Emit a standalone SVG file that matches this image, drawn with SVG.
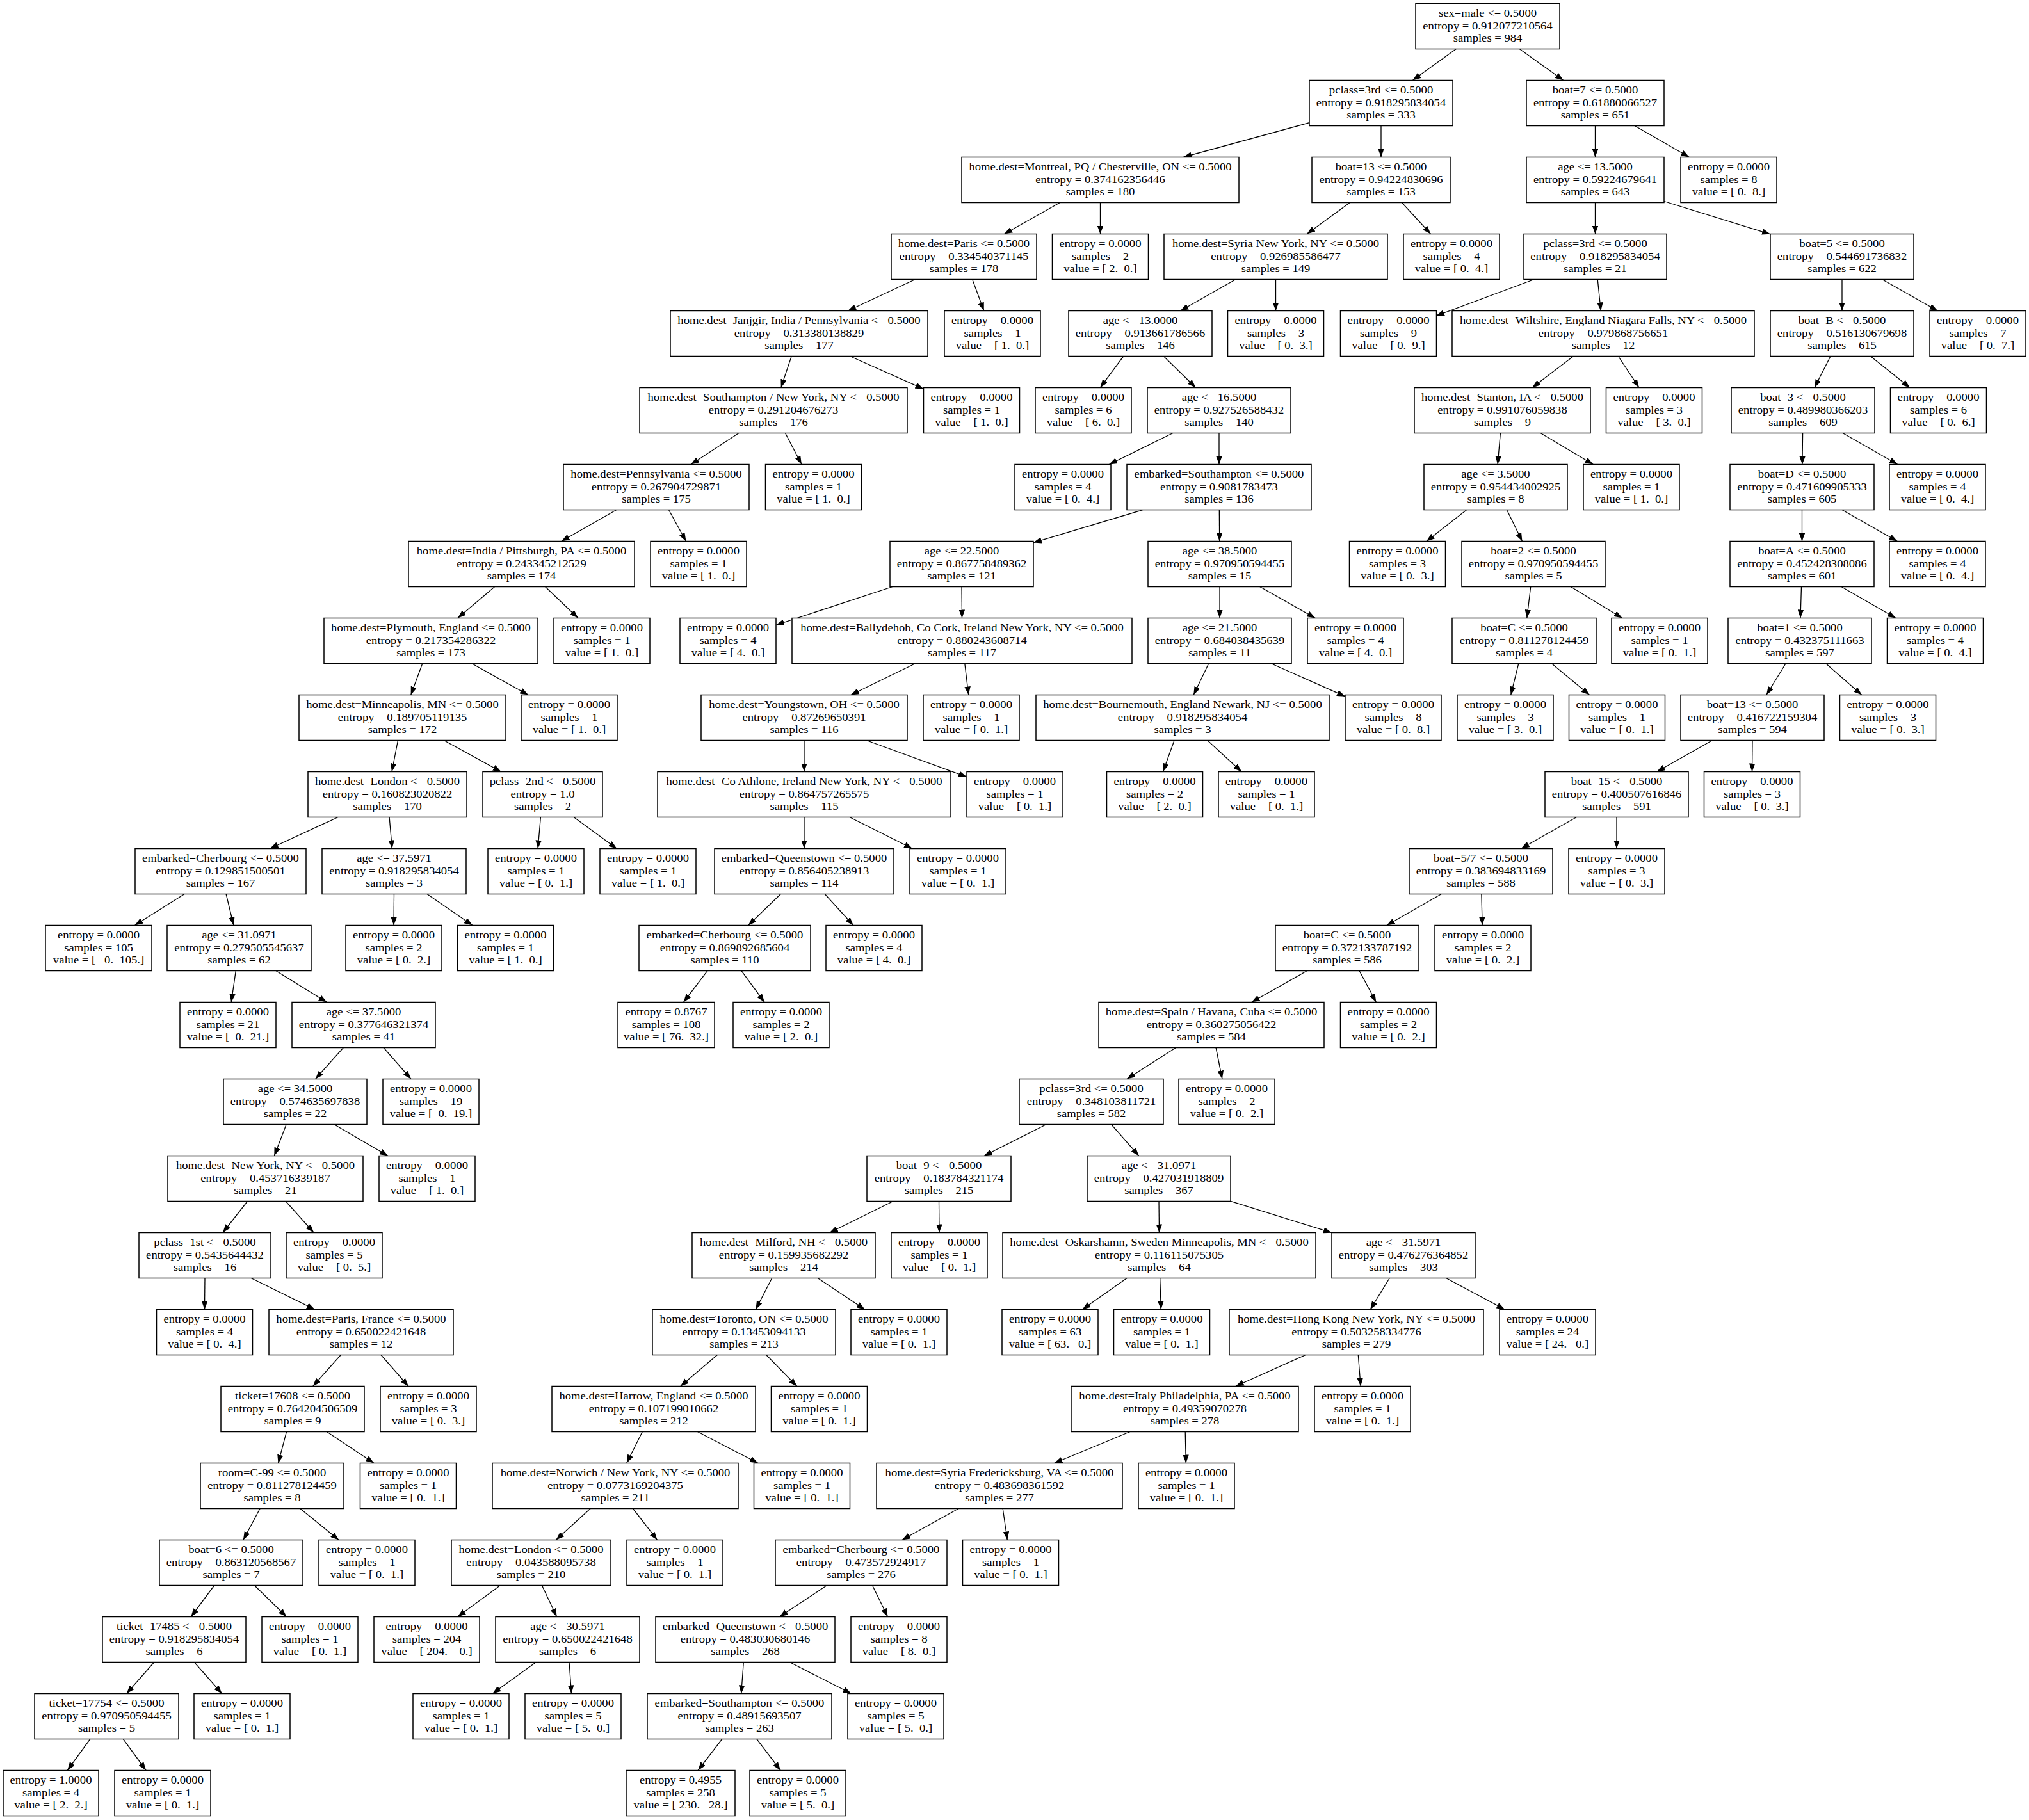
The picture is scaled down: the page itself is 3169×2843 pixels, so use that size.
<svg xmlns="http://www.w3.org/2000/svg" width="3169" height="2843" viewBox="0 0 3169 2843">
<style>
rect.b{fill:#fff;stroke:#000;stroke-width:1.5}
text{font-family:"Liberation Serif","Times New Roman",serif;font-size:17.5px;text-anchor:middle;fill:#000;white-space:pre;transform-box:fill-box;transform-origin:center;transform:scaleX(1.065)}
#edges line{stroke:#000;stroke-width:1.3;marker-end:url(#ah)}
</style>
<defs><marker id="ah" markerUnits="userSpaceOnUse" markerWidth="13" markerHeight="9.5" refX="13" refY="4.75" orient="auto"><path d="M0,0 L13,4.75 L0,9.5 z" fill="#000"/></marker></defs>
<rect width="3169" height="2843" fill="#fff"/>
<g id="edges">
<line x1="2274.3" y1="76.5" x2="2206.3" y2="125.5"/>
<line x1="2373.2" y1="76.5" x2="2441.8" y2="125.5"/>
<line x1="2045" y1="191.7" x2="1848.2" y2="245.5"/>
<line x1="2157" y1="196.5" x2="2157" y2="245.5"/>
<line x1="2491.5" y1="196.5" x2="2491.5" y2="245.5"/>
<line x1="2553.2" y1="196.5" x2="2638.3" y2="245.5"/>
<line x1="1655.5" y1="316.5" x2="1568.5" y2="365.5"/>
<line x1="1718.5" y1="316.5" x2="1718.5" y2="365.5"/>
<line x1="2108.3" y1="316.5" x2="2041.2" y2="365.5"/>
<line x1="2189.5" y1="316.5" x2="2234.5" y2="365.5"/>
<line x1="2491.5" y1="316.5" x2="2491.5" y2="365.5"/>
<line x1="2599" y1="314.5" x2="2765" y2="365.8"/>
<line x1="1429.3" y1="436.5" x2="1324.2" y2="485.5"/>
<line x1="1518.7" y1="436.5" x2="1536.8" y2="485.5"/>
<line x1="1929.9" y1="436.5" x2="1843.6" y2="485.5"/>
<line x1="1992.5" y1="436.5" x2="1992.5" y2="485.5"/>
<line x1="2396" y1="436.5" x2="2243" y2="493.3"/>
<line x1="2495.2" y1="436.5" x2="2500.3" y2="485.5"/>
<line x1="2877" y1="436.5" x2="2877" y2="485.5"/>
<line x1="2939.7" y1="436.5" x2="3026.3" y2="485.5"/>
<line x1="1236.2" y1="556.5" x2="1219.8" y2="605.5"/>
<line x1="1327.7" y1="556.5" x2="1442.5" y2="607.6"/>
<line x1="1754.7" y1="556.5" x2="1718.3" y2="605.5"/>
<line x1="1817.4" y1="556.5" x2="1867.6" y2="605.5"/>
<line x1="2457.4" y1="556.5" x2="2393.1" y2="605.5"/>
<line x1="2527.5" y1="556.5" x2="2560" y2="605.5"/>
<line x1="2859" y1="556.5" x2="2834" y2="605.5"/>
<line x1="2921.5" y1="556.5" x2="2983" y2="605.5"/>
<line x1="1153.9" y1="676.5" x2="1079.1" y2="725.5"/>
<line x1="1226.5" y1="676.5" x2="1252" y2="725.5"/>
<line x1="1831.8" y1="676.5" x2="1732.2" y2="725.5"/>
<line x1="1904" y1="676.5" x2="1904" y2="725.5"/>
<line x1="2343.4" y1="676.5" x2="2339.1" y2="725.5"/>
<line x1="2406.1" y1="676.5" x2="2488.4" y2="725.5"/>
<line x1="2815.6" y1="676.5" x2="2814.9" y2="725.5"/>
<line x1="2878.1" y1="676.5" x2="2963.9" y2="725.5"/>
<line x1="962.7" y1="796.5" x2="876.8" y2="845.5"/>
<line x1="1044.5" y1="796.5" x2="1071.5" y2="845.5"/>
<line x1="1785.1" y1="796.5" x2="1614" y2="847.6"/>
<line x1="1904.3" y1="796.5" x2="1904.7" y2="845.5"/>
<line x1="2290.6" y1="796.5" x2="2227.9" y2="845.5"/>
<line x1="2353.5" y1="796.5" x2="2377.5" y2="845.5"/>
<line x1="2814.5" y1="796.5" x2="2814.5" y2="845.5"/>
<line x1="2877.1" y1="796.5" x2="2963.4" y2="845.5"/>
<line x1="772.6" y1="916.5" x2="714.9" y2="965.5"/>
<line x1="851.6" y1="916.5" x2="902.9" y2="965.5"/>
<line x1="1394" y1="916.5" x2="1212" y2="976.3"/>
<line x1="1502" y1="916.5" x2="1502.5" y2="965.5"/>
<line x1="1905" y1="916.5" x2="1905" y2="965.5"/>
<line x1="1967.7" y1="916.5" x2="2054.3" y2="965.5"/>
<line x1="2390.7" y1="916.5" x2="2384.8" y2="965.5"/>
<line x1="2453.3" y1="916.5" x2="2533.7" y2="965.5"/>
<line x1="2813.5" y1="916.5" x2="2812" y2="965.5"/>
<line x1="2876" y1="916.5" x2="2961" y2="965.5"/>
<line x1="659.8" y1="1036.5" x2="641.7" y2="1085.5"/>
<line x1="736.9" y1="1036.5" x2="825.1" y2="1085.5"/>
<line x1="1429.6" y1="1036.5" x2="1328.9" y2="1085.5"/>
<line x1="1506.8" y1="1036.5" x2="1512.7" y2="1085.5"/>
<line x1="1887.8" y1="1036.5" x2="1864.2" y2="1085.5"/>
<line x1="1985.2" y1="1036.5" x2="2101" y2="1087.8"/>
<line x1="2371.8" y1="1036.5" x2="2359.7" y2="1085.5"/>
<line x1="2423.4" y1="1036.5" x2="2482.6" y2="1085.5"/>
<line x1="2789.1" y1="1036.5" x2="2758.9" y2="1085.5"/>
<line x1="2851.7" y1="1036.5" x2="2907.8" y2="1085.5"/>
<line x1="621.5" y1="1156.5" x2="612" y2="1205.5"/>
<line x1="693.3" y1="1156.5" x2="782.7" y2="1205.5"/>
<line x1="1256" y1="1156.5" x2="1256" y2="1205.5"/>
<line x1="1353.3" y1="1156.5" x2="1510" y2="1213.6"/>
<line x1="1834.1" y1="1156.5" x2="1816.4" y2="1205.5"/>
<line x1="1885.8" y1="1156.5" x2="1939.2" y2="1205.5"/>
<line x1="2674.3" y1="1156.5" x2="2587.7" y2="1205.5"/>
<line x1="2737" y1="1156.5" x2="2736.5" y2="1205.5"/>
<line x1="527.9" y1="1276.5" x2="421.6" y2="1325.5"/>
<line x1="608.1" y1="1276.5" x2="612.4" y2="1325.5"/>
<line x1="844.4" y1="1276.5" x2="840.1" y2="1325.5"/>
<line x1="896.2" y1="1276.5" x2="963.3" y2="1325.5"/>
<line x1="1256" y1="1276.5" x2="1256" y2="1325.5"/>
<line x1="1327" y1="1276.5" x2="1425" y2="1325.5"/>
<line x1="2462.3" y1="1276.5" x2="2375.7" y2="1325.5"/>
<line x1="2525" y1="1276.5" x2="2525" y2="1325.5"/>
<line x1="288.1" y1="1396.5" x2="210.4" y2="1445.5"/>
<line x1="353.1" y1="1396.5" x2="364.9" y2="1445.5"/>
<line x1="615.5" y1="1396.5" x2="615" y2="1445.5"/>
<line x1="667" y1="1396.5" x2="738" y2="1445.5"/>
<line x1="1219.3" y1="1396.5" x2="1168.7" y2="1445.5"/>
<line x1="1288.2" y1="1396.5" x2="1332.8" y2="1445.5"/>
<line x1="2251.2" y1="1396.5" x2="2165.8" y2="1445.5"/>
<line x1="2313.9" y1="1396.5" x2="2315.1" y2="1445.5"/>
<line x1="368.3" y1="1516.5" x2="361.2" y2="1565.5"/>
<line x1="431" y1="1516.5" x2="510.5" y2="1565.5"/>
<line x1="1104.9" y1="1516.5" x2="1067.6" y2="1565.5"/>
<line x1="1158" y1="1516.5" x2="1194" y2="1565.5"/>
<line x1="2041.3" y1="1516.5" x2="1954.7" y2="1565.5"/>
<line x1="2123.1" y1="1516.5" x2="2149.4" y2="1565.5"/>
<line x1="536.3" y1="1636.5" x2="492.7" y2="1685.5"/>
<line x1="599.1" y1="1636.5" x2="641.9" y2="1685.5"/>
<line x1="1836.5" y1="1636.5" x2="1760" y2="1685.5"/>
<line x1="1899.1" y1="1636.5" x2="1908.9" y2="1685.5"/>
<line x1="447.2" y1="1756.5" x2="428.3" y2="1805.5"/>
<line x1="521.9" y1="1756.5" x2="606.1" y2="1805.5"/>
<line x1="1634.1" y1="1756.5" x2="1536.9" y2="1805.5"/>
<line x1="1735.7" y1="1756.5" x2="1778.8" y2="1805.5"/>
<line x1="386.5" y1="1876.5" x2="348" y2="1925.5"/>
<line x1="446.3" y1="1876.5" x2="490.2" y2="1925.5"/>
<line x1="1394.8" y1="1876.5" x2="1295.7" y2="1925.5"/>
<line x1="1466.5" y1="1876.5" x2="1467" y2="1925.5"/>
<line x1="1810" y1="1876.5" x2="1810.5" y2="1925.5"/>
<line x1="1922" y1="1876.3" x2="2080" y2="1925.7"/>
<line x1="320" y1="1996.5" x2="319.5" y2="2045.5"/>
<line x1="392.2" y1="1996.5" x2="491.8" y2="2045.5"/>
<line x1="1205.7" y1="1996.5" x2="1180.3" y2="2045.5"/>
<line x1="1277.2" y1="1996.5" x2="1350.8" y2="2045.5"/>
<line x1="1760.1" y1="1996.5" x2="1690.4" y2="2045.5"/>
<line x1="1811.7" y1="1996.5" x2="1813.3" y2="2045.5"/>
<line x1="2170.3" y1="1996.5" x2="2140.2" y2="2045.5"/>
<line x1="2258.6" y1="1996.5" x2="2350.4" y2="2045.5"/>
<line x1="532.3" y1="2116.5" x2="488.7" y2="2165.5"/>
<line x1="595.1" y1="2116.5" x2="637.9" y2="2165.5"/>
<line x1="1120.3" y1="2116.5" x2="1062.7" y2="2165.5"/>
<line x1="1196.8" y1="2116.5" x2="1244.7" y2="2165.5"/>
<line x1="2039.2" y1="2116.5" x2="1929.8" y2="2165.5"/>
<line x1="2121.3" y1="2116.5" x2="2125.2" y2="2165.5"/>
<line x1="447.5" y1="2236.5" x2="434.5" y2="2285.5"/>
<line x1="510.4" y1="2236.5" x2="584.1" y2="2285.5"/>
<line x1="1003.3" y1="2236.5" x2="978.7" y2="2285.5"/>
<line x1="1089.5" y1="2236.5" x2="1184" y2="2285.5"/>
<line x1="1764.9" y1="2236.5" x2="1646.6" y2="2285.5"/>
<line x1="1851.2" y1="2236.5" x2="1852.3" y2="2285.5"/>
<line x1="406.1" y1="2356.5" x2="379.9" y2="2405.5"/>
<line x1="468.8" y1="2356.5" x2="529.2" y2="2405.5"/>
<line x1="922.1" y1="2356.5" x2="868.4" y2="2405.5"/>
<line x1="988.5" y1="2356.5" x2="1026.5" y2="2405.5"/>
<line x1="1497.1" y1="2356.5" x2="1408.9" y2="2405.5"/>
<line x1="1566.2" y1="2356.5" x2="1573.3" y2="2405.5"/>
<line x1="334.7" y1="2476.5" x2="298.3" y2="2525.5"/>
<line x1="397.4" y1="2476.5" x2="447.6" y2="2525.5"/>
<line x1="781.3" y1="2476.5" x2="714.7" y2="2525.5"/>
<line x1="846.4" y1="2476.5" x2="869.6" y2="2525.5"/>
<line x1="1291.5" y1="2476.5" x2="1217.5" y2="2525.5"/>
<line x1="1362.5" y1="2476.5" x2="1386.5" y2="2525.5"/>
<line x1="240.8" y1="2596.5" x2="197.7" y2="2645.5"/>
<line x1="303.4" y1="2596.5" x2="346.6" y2="2645.5"/>
<line x1="837.2" y1="2596.5" x2="769.3" y2="2645.5"/>
<line x1="889" y1="2596.5" x2="892.5" y2="2645.5"/>
<line x1="1161.3" y1="2596.5" x2="1157.7" y2="2645.5"/>
<line x1="1233.5" y1="2596.5" x2="1329.5" y2="2645.5"/>
<line x1="140.8" y1="2716.5" x2="105.2" y2="2765.5"/>
<line x1="192.4" y1="2716.5" x2="228.1" y2="2765.5"/>
<line x1="1127.8" y1="2716.5" x2="1090.2" y2="2765.5"/>
<line x1="1181.9" y1="2716.5" x2="1219.1" y2="2765.5"/>
</g>
<g id="nodes">
<g id="n0" transform="translate(2323.5,5.5)"><rect class="b" x="-112.5" width="225" height="71"/><text xml:space="preserve"><tspan x="0" y="20.7">sex=male &lt;= 0.5000</tspan><tspan x="0" y="40.2">entropy = 0.912077210564</tspan><tspan x="0" y="59.8">samples = 984</tspan></text></g>
<g id="n1" transform="translate(2157,125.5)"><rect class="b" x="-112" width="224" height="71"/><text xml:space="preserve"><tspan x="0" y="20.7">pclass=3rd &lt;= 0.5000</tspan><tspan x="0" y="40.2">entropy = 0.918295834054</tspan><tspan x="0" y="59.8">samples = 333</tspan></text></g>
<g id="n2" transform="translate(2491.5,125.5)"><rect class="b" x="-107.5" width="215" height="71"/><text xml:space="preserve"><tspan x="0" y="20.7">boat=7 &lt;= 0.5000</tspan><tspan x="0" y="40.2">entropy = 0.61880066527</tspan><tspan x="0" y="59.8">samples = 651</tspan></text></g>
<g id="n3" transform="translate(1718.5,245.5)"><rect class="b" x="-216.5" width="433" height="71"/><text xml:space="preserve"><tspan x="0" y="20.7">home.dest=Montreal, PQ / Chesterville, ON &lt;= 0.5000</tspan><tspan x="0" y="40.2">entropy = 0.374162356446</tspan><tspan x="0" y="59.8">samples = 180</tspan></text></g>
<g id="n4" transform="translate(2157,245.5)"><rect class="b" x="-108" width="216" height="71"/><text xml:space="preserve"><tspan x="0" y="20.7">boat=13 &lt;= 0.5000</tspan><tspan x="0" y="40.2">entropy = 0.94224830696</tspan><tspan x="0" y="59.8">samples = 153</tspan></text></g>
<g id="n5" transform="translate(2491.5,245.5)"><rect class="b" x="-107.5" width="215" height="71"/><text xml:space="preserve"><tspan x="0" y="20.7">age &lt;= 13.5000</tspan><tspan x="0" y="40.2">entropy = 0.59224679641</tspan><tspan x="0" y="59.8">samples = 643</tspan></text></g>
<g id="n6" transform="translate(2700,245.5)"><rect class="b" x="-75" width="150" height="71"/><text xml:space="preserve"><tspan x="0" y="20.7">entropy = 0.0000</tspan><tspan x="0" y="40.2">samples = 8</tspan><tspan x="0" y="59.8">value = [ 0.  8.]</tspan></text></g>
<g id="n7" transform="translate(1505.5,365.5)"><rect class="b" x="-113.5" width="227" height="71"/><text xml:space="preserve"><tspan x="0" y="20.7">home.dest=Paris &lt;= 0.5000</tspan><tspan x="0" y="40.2">entropy = 0.334540371145</tspan><tspan x="0" y="59.8">samples = 178</tspan></text></g>
<g id="n8" transform="translate(1718.5,365.5)"><rect class="b" x="-75" width="150" height="71"/><text xml:space="preserve"><tspan x="0" y="20.7">entropy = 0.0000</tspan><tspan x="0" y="40.2">samples = 2</tspan><tspan x="0" y="59.8">value = [ 2.  0.]</tspan></text></g>
<g id="n9" transform="translate(1992.5,365.5)"><rect class="b" x="-174.5" width="349" height="71"/><text xml:space="preserve"><tspan x="0" y="20.7">home.dest=Syria New York, NY &lt;= 0.5000</tspan><tspan x="0" y="40.2">entropy = 0.926985586477</tspan><tspan x="0" y="59.8">samples = 149</tspan></text></g>
<g id="n10" transform="translate(2267,365.5)"><rect class="b" x="-75" width="150" height="71"/><text xml:space="preserve"><tspan x="0" y="20.7">entropy = 0.0000</tspan><tspan x="0" y="40.2">samples = 4</tspan><tspan x="0" y="59.8">value = [ 0.  4.]</tspan></text></g>
<g id="n11" transform="translate(2491.5,365.5)"><rect class="b" x="-111.5" width="223" height="71"/><text xml:space="preserve"><tspan x="0" y="20.7">pclass=3rd &lt;= 0.5000</tspan><tspan x="0" y="40.2">entropy = 0.918295834054</tspan><tspan x="0" y="59.8">samples = 21</tspan></text></g>
<g id="n12" transform="translate(2877,365.5)"><rect class="b" x="-112" width="224" height="71"/><text xml:space="preserve"><tspan x="0" y="20.7">boat=5 &lt;= 0.5000</tspan><tspan x="0" y="40.2">entropy = 0.544691736832</tspan><tspan x="0" y="59.8">samples = 622</tspan></text></g>
<g id="n13" transform="translate(1248,485.5)"><rect class="b" x="-201" width="402" height="71"/><text xml:space="preserve"><tspan x="0" y="20.7">home.dest=Janjgir, India / Pennsylvania &lt;= 0.5000</tspan><tspan x="0" y="40.2">entropy = 0.313380138829</tspan><tspan x="0" y="59.8">samples = 177</tspan></text></g>
<g id="n14" transform="translate(1550,485.5)"><rect class="b" x="-75" width="150" height="71"/><text xml:space="preserve"><tspan x="0" y="20.7">entropy = 0.0000</tspan><tspan x="0" y="40.2">samples = 1</tspan><tspan x="0" y="59.8">value = [ 1.  0.]</tspan></text></g>
<g id="n15" transform="translate(1781,485.5)"><rect class="b" x="-112" width="224" height="71"/><text xml:space="preserve"><tspan x="0" y="20.7">age &lt;= 13.0000</tspan><tspan x="0" y="40.2">entropy = 0.913661786566</tspan><tspan x="0" y="59.8">samples = 146</tspan></text></g>
<g id="n16" transform="translate(1992.5,485.5)"><rect class="b" x="-75" width="150" height="71"/><text xml:space="preserve"><tspan x="0" y="20.7">entropy = 0.0000</tspan><tspan x="0" y="40.2">samples = 3</tspan><tspan x="0" y="59.8">value = [ 0.  3.]</tspan></text></g>
<g id="n17" transform="translate(2168.5,485.5)"><rect class="b" x="-75" width="150" height="71"/><text xml:space="preserve"><tspan x="0" y="20.7">entropy = 0.0000</tspan><tspan x="0" y="40.2">samples = 9</tspan><tspan x="0" y="59.8">value = [ 0.  9.]</tspan></text></g>
<g id="n18" transform="translate(2504,485.5)"><rect class="b" x="-236" width="472" height="71"/><text xml:space="preserve"><tspan x="0" y="20.7">home.dest=Wiltshire, England Niagara Falls, NY &lt;= 0.5000</tspan><tspan x="0" y="40.2">entropy = 0.979868756651</tspan><tspan x="0" y="59.8">samples = 12</tspan></text></g>
<g id="n19" transform="translate(2877,485.5)"><rect class="b" x="-112" width="224" height="71"/><text xml:space="preserve"><tspan x="0" y="20.7">boat=B &lt;= 0.5000</tspan><tspan x="0" y="40.2">entropy = 0.516130679698</tspan><tspan x="0" y="59.8">samples = 615</tspan></text></g>
<g id="n20" transform="translate(3089,485.5)"><rect class="b" x="-75" width="150" height="71"/><text xml:space="preserve"><tspan x="0" y="20.7">entropy = 0.0000</tspan><tspan x="0" y="40.2">samples = 7</tspan><tspan x="0" y="59.8">value = [ 0.  7.]</tspan></text></g>
<g id="n21" transform="translate(1208,605.5)"><rect class="b" x="-209" width="418" height="71"/><text xml:space="preserve"><tspan x="0" y="20.7">home.dest=Southampton / New York, NY &lt;= 0.5000</tspan><tspan x="0" y="40.2">entropy = 0.291204676273</tspan><tspan x="0" y="59.8">samples = 176</tspan></text></g>
<g id="n22" transform="translate(1517.5,605.5)"><rect class="b" x="-75" width="150" height="71"/><text xml:space="preserve"><tspan x="0" y="20.7">entropy = 0.0000</tspan><tspan x="0" y="40.2">samples = 1</tspan><tspan x="0" y="59.8">value = [ 1.  0.]</tspan></text></g>
<g id="n23" transform="translate(1692,605.5)"><rect class="b" x="-75" width="150" height="71"/><text xml:space="preserve"><tspan x="0" y="20.7">entropy = 0.0000</tspan><tspan x="0" y="40.2">samples = 6</tspan><tspan x="0" y="59.8">value = [ 6.  0.]</tspan></text></g>
<g id="n24" transform="translate(1904,605.5)"><rect class="b" x="-112" width="224" height="71"/><text xml:space="preserve"><tspan x="0" y="20.7">age &lt;= 16.5000</tspan><tspan x="0" y="40.2">entropy = 0.927526588432</tspan><tspan x="0" y="59.8">samples = 140</tspan></text></g>
<g id="n25" transform="translate(2346.5,605.5)"><rect class="b" x="-137.5" width="275" height="71"/><text xml:space="preserve"><tspan x="0" y="20.7">home.dest=Stanton, IA &lt;= 0.5000</tspan><tspan x="0" y="40.2">entropy = 0.991076059838</tspan><tspan x="0" y="59.8">samples = 9</tspan></text></g>
<g id="n26" transform="translate(2583.5,605.5)"><rect class="b" x="-75" width="150" height="71"/><text xml:space="preserve"><tspan x="0" y="20.7">entropy = 0.0000</tspan><tspan x="0" y="40.2">samples = 3</tspan><tspan x="0" y="59.8">value = [ 3.  0.]</tspan></text></g>
<g id="n27" transform="translate(2816,605.5)"><rect class="b" x="-112" width="224" height="71"/><text xml:space="preserve"><tspan x="0" y="20.7">boat=3 &lt;= 0.5000</tspan><tspan x="0" y="40.2">entropy = 0.489980366203</tspan><tspan x="0" y="59.8">samples = 609</tspan></text></g>
<g id="n28" transform="translate(3027.5,605.5)"><rect class="b" x="-75" width="150" height="71"/><text xml:space="preserve"><tspan x="0" y="20.7">entropy = 0.0000</tspan><tspan x="0" y="40.2">samples = 6</tspan><tspan x="0" y="59.8">value = [ 0.  6.]</tspan></text></g>
<g id="n29" transform="translate(1025,725.5)"><rect class="b" x="-145" width="290" height="71"/><text xml:space="preserve"><tspan x="0" y="20.7">home.dest=Pennsylvania &lt;= 0.5000</tspan><tspan x="0" y="40.2">entropy = 0.267904729871</tspan><tspan x="0" y="59.8">samples = 175</tspan></text></g>
<g id="n30" transform="translate(1270.5,725.5)"><rect class="b" x="-75" width="150" height="71"/><text xml:space="preserve"><tspan x="0" y="20.7">entropy = 0.0000</tspan><tspan x="0" y="40.2">samples = 1</tspan><tspan x="0" y="59.8">value = [ 1.  0.]</tspan></text></g>
<g id="n31" transform="translate(1660,725.5)"><rect class="b" x="-75" width="150" height="71"/><text xml:space="preserve"><tspan x="0" y="20.7">entropy = 0.0000</tspan><tspan x="0" y="40.2">samples = 4</tspan><tspan x="0" y="59.8">value = [ 0.  4.]</tspan></text></g>
<g id="n32" transform="translate(1904,725.5)"><rect class="b" x="-144" width="288" height="71"/><text xml:space="preserve"><tspan x="0" y="20.7">embarked=Southampton &lt;= 0.5000</tspan><tspan x="0" y="40.2">entropy = 0.9081783473</tspan><tspan x="0" y="59.8">samples = 136</tspan></text></g>
<g id="n33" transform="translate(2336,725.5)"><rect class="b" x="-112" width="224" height="71"/><text xml:space="preserve"><tspan x="0" y="20.7">age &lt;= 3.5000</tspan><tspan x="0" y="40.2">entropy = 0.954434002925</tspan><tspan x="0" y="59.8">samples = 8</tspan></text></g>
<g id="n34" transform="translate(2548,725.5)"><rect class="b" x="-75" width="150" height="71"/><text xml:space="preserve"><tspan x="0" y="20.7">entropy = 0.0000</tspan><tspan x="0" y="40.2">samples = 1</tspan><tspan x="0" y="59.8">value = [ 1.  0.]</tspan></text></g>
<g id="n35" transform="translate(2814.5,725.5)"><rect class="b" x="-112.5" width="225" height="71"/><text xml:space="preserve"><tspan x="0" y="20.7">boat=D &lt;= 0.5000</tspan><tspan x="0" y="40.2">entropy = 0.471609905333</tspan><tspan x="0" y="59.8">samples = 605</tspan></text></g>
<g id="n36" transform="translate(3026,725.5)"><rect class="b" x="-75" width="150" height="71"/><text xml:space="preserve"><tspan x="0" y="20.7">entropy = 0.0000</tspan><tspan x="0" y="40.2">samples = 4</tspan><tspan x="0" y="59.8">value = [ 0.  4.]</tspan></text></g>
<g id="n37" transform="translate(814.5,845.5)"><rect class="b" x="-176.5" width="353" height="71"/><text xml:space="preserve"><tspan x="0" y="20.7">home.dest=India / Pittsburgh, PA &lt;= 0.5000</tspan><tspan x="0" y="40.2">entropy = 0.243345212529</tspan><tspan x="0" y="59.8">samples = 174</tspan></text></g>
<g id="n38" transform="translate(1091,845.5)"><rect class="b" x="-75" width="150" height="71"/><text xml:space="preserve"><tspan x="0" y="20.7">entropy = 0.0000</tspan><tspan x="0" y="40.2">samples = 1</tspan><tspan x="0" y="59.8">value = [ 1.  0.]</tspan></text></g>
<g id="n39" transform="translate(1502,845.5)"><rect class="b" x="-112" width="224" height="71"/><text xml:space="preserve"><tspan x="0" y="20.7">age &lt;= 22.5000</tspan><tspan x="0" y="40.2">entropy = 0.867758489362</tspan><tspan x="0" y="59.8">samples = 121</tspan></text></g>
<g id="n40" transform="translate(1905,845.5)"><rect class="b" x="-112" width="224" height="71"/><text xml:space="preserve"><tspan x="0" y="20.7">age &lt;= 38.5000</tspan><tspan x="0" y="40.2">entropy = 0.970950594455</tspan><tspan x="0" y="59.8">samples = 15</tspan></text></g>
<g id="n41" transform="translate(2182.5,845.5)"><rect class="b" x="-75" width="150" height="71"/><text xml:space="preserve"><tspan x="0" y="20.7">entropy = 0.0000</tspan><tspan x="0" y="40.2">samples = 3</tspan><tspan x="0" y="59.8">value = [ 0.  3.]</tspan></text></g>
<g id="n42" transform="translate(2395,845.5)"><rect class="b" x="-112" width="224" height="71"/><text xml:space="preserve"><tspan x="0" y="20.7">boat=2 &lt;= 0.5000</tspan><tspan x="0" y="40.2">entropy = 0.970950594455</tspan><tspan x="0" y="59.8">samples = 5</tspan></text></g>
<g id="n43" transform="translate(2814.5,845.5)"><rect class="b" x="-112.5" width="225" height="71"/><text xml:space="preserve"><tspan x="0" y="20.7">boat=A &lt;= 0.5000</tspan><tspan x="0" y="40.2">entropy = 0.452428308086</tspan><tspan x="0" y="59.8">samples = 601</tspan></text></g>
<g id="n44" transform="translate(3026,845.5)"><rect class="b" x="-75" width="150" height="71"/><text xml:space="preserve"><tspan x="0" y="20.7">entropy = 0.0000</tspan><tspan x="0" y="40.2">samples = 4</tspan><tspan x="0" y="59.8">value = [ 0.  4.]</tspan></text></g>
<g id="n45" transform="translate(673,965.5)"><rect class="b" x="-167" width="334" height="71"/><text xml:space="preserve"><tspan x="0" y="20.7">home.dest=Plymouth, England &lt;= 0.5000</tspan><tspan x="0" y="40.2">entropy = 0.217354286322</tspan><tspan x="0" y="59.8">samples = 173</tspan></text></g>
<g id="n46" transform="translate(940,965.5)"><rect class="b" x="-75" width="150" height="71"/><text xml:space="preserve"><tspan x="0" y="20.7">entropy = 0.0000</tspan><tspan x="0" y="40.2">samples = 1</tspan><tspan x="0" y="59.8">value = [ 1.  0.]</tspan></text></g>
<g id="n47" transform="translate(1137,965.5)"><rect class="b" x="-75" width="150" height="71"/><text xml:space="preserve"><tspan x="0" y="20.7">entropy = 0.0000</tspan><tspan x="0" y="40.2">samples = 4</tspan><tspan x="0" y="59.8">value = [ 4.  0.]</tspan></text></g>
<g id="n48" transform="translate(1502.5,965.5)"><rect class="b" x="-265.5" width="531" height="71"/><text xml:space="preserve"><tspan x="0" y="20.7">home.dest=Ballydehob, Co Cork, Ireland New York, NY &lt;= 0.5000</tspan><tspan x="0" y="40.2">entropy = 0.880243608714</tspan><tspan x="0" y="59.8">samples = 117</tspan></text></g>
<g id="n49" transform="translate(1905,965.5)"><rect class="b" x="-112" width="224" height="71"/><text xml:space="preserve"><tspan x="0" y="20.7">age &lt;= 21.5000</tspan><tspan x="0" y="40.2">entropy = 0.684038435639</tspan><tspan x="0" y="59.8">samples = 11</tspan></text></g>
<g id="n50" transform="translate(2117,965.5)"><rect class="b" x="-75" width="150" height="71"/><text xml:space="preserve"><tspan x="0" y="20.7">entropy = 0.0000</tspan><tspan x="0" y="40.2">samples = 4</tspan><tspan x="0" y="59.8">value = [ 4.  0.]</tspan></text></g>
<g id="n51" transform="translate(2380.5,965.5)"><rect class="b" x="-112.5" width="225" height="71"/><text xml:space="preserve"><tspan x="0" y="20.7">boat=C &lt;= 0.5000</tspan><tspan x="0" y="40.2">entropy = 0.811278124459</tspan><tspan x="0" y="59.8">samples = 4</tspan></text></g>
<g id="n52" transform="translate(2592,965.5)"><rect class="b" x="-75" width="150" height="71"/><text xml:space="preserve"><tspan x="0" y="20.7">entropy = 0.0000</tspan><tspan x="0" y="40.2">samples = 1</tspan><tspan x="0" y="59.8">value = [ 0.  1.]</tspan></text></g>
<g id="n53" transform="translate(2811,965.5)"><rect class="b" x="-112" width="224" height="71"/><text xml:space="preserve"><tspan x="0" y="20.7">boat=1 &lt;= 0.5000</tspan><tspan x="0" y="40.2">entropy = 0.432375111663</tspan><tspan x="0" y="59.8">samples = 597</tspan></text></g>
<g id="n54" transform="translate(3022.5,965.5)"><rect class="b" x="-75" width="150" height="71"/><text xml:space="preserve"><tspan x="0" y="20.7">entropy = 0.0000</tspan><tspan x="0" y="40.2">samples = 4</tspan><tspan x="0" y="59.8">value = [ 0.  4.]</tspan></text></g>
<g id="n55" transform="translate(628.5,1085.5)"><rect class="b" x="-161.5" width="323" height="71"/><text xml:space="preserve"><tspan x="0" y="20.7">home.dest=Minneapolis, MN &lt;= 0.5000</tspan><tspan x="0" y="40.2">entropy = 0.189705119135</tspan><tspan x="0" y="59.8">samples = 172</tspan></text></g>
<g id="n56" transform="translate(889,1085.5)"><rect class="b" x="-75" width="150" height="71"/><text xml:space="preserve"><tspan x="0" y="20.7">entropy = 0.0000</tspan><tspan x="0" y="40.2">samples = 1</tspan><tspan x="0" y="59.8">value = [ 1.  0.]</tspan></text></g>
<g id="n57" transform="translate(1256,1085.5)"><rect class="b" x="-161" width="322" height="71"/><text xml:space="preserve"><tspan x="0" y="20.7">home.dest=Youngstown, OH &lt;= 0.5000</tspan><tspan x="0" y="40.2">entropy = 0.87269650391</tspan><tspan x="0" y="59.8">samples = 116</tspan></text></g>
<g id="n58" transform="translate(1517,1085.5)"><rect class="b" x="-75" width="150" height="71"/><text xml:space="preserve"><tspan x="0" y="20.7">entropy = 0.0000</tspan><tspan x="0" y="40.2">samples = 1</tspan><tspan x="0" y="59.8">value = [ 0.  1.]</tspan></text></g>
<g id="n59" transform="translate(1847,1085.5)"><rect class="b" x="-229" width="458" height="71"/><text xml:space="preserve"><tspan x="0" y="20.7">home.dest=Bournemouth, England Newark, NJ &lt;= 0.5000</tspan><tspan x="0" y="40.2">entropy = 0.918295834054</tspan><tspan x="0" y="59.8">samples = 3</tspan></text></g>
<g id="n60" transform="translate(2176,1085.5)"><rect class="b" x="-75" width="150" height="71"/><text xml:space="preserve"><tspan x="0" y="20.7">entropy = 0.0000</tspan><tspan x="0" y="40.2">samples = 8</tspan><tspan x="0" y="59.8">value = [ 0.  8.]</tspan></text></g>
<g id="n61" transform="translate(2351,1085.5)"><rect class="b" x="-75" width="150" height="71"/><text xml:space="preserve"><tspan x="0" y="20.7">entropy = 0.0000</tspan><tspan x="0" y="40.2">samples = 3</tspan><tspan x="0" y="59.8">value = [ 3.  0.]</tspan></text></g>
<g id="n62" transform="translate(2525.5,1085.5)"><rect class="b" x="-75" width="150" height="71"/><text xml:space="preserve"><tspan x="0" y="20.7">entropy = 0.0000</tspan><tspan x="0" y="40.2">samples = 1</tspan><tspan x="0" y="59.8">value = [ 0.  1.]</tspan></text></g>
<g id="n63" transform="translate(2737,1085.5)"><rect class="b" x="-112" width="224" height="71"/><text xml:space="preserve"><tspan x="0" y="20.7">boat=13 &lt;= 0.5000</tspan><tspan x="0" y="40.2">entropy = 0.416722159304</tspan><tspan x="0" y="59.8">samples = 594</tspan></text></g>
<g id="n64" transform="translate(2948.5,1085.5)"><rect class="b" x="-75" width="150" height="71"/><text xml:space="preserve"><tspan x="0" y="20.7">entropy = 0.0000</tspan><tspan x="0" y="40.2">samples = 3</tspan><tspan x="0" y="59.8">value = [ 0.  3.]</tspan></text></g>
<g id="n65" transform="translate(605,1205.5)"><rect class="b" x="-124" width="248" height="71"/><text xml:space="preserve"><tspan x="0" y="20.7">home.dest=London &lt;= 0.5000</tspan><tspan x="0" y="40.2">entropy = 0.160823020822</tspan><tspan x="0" y="59.8">samples = 170</tspan></text></g>
<g id="n66" transform="translate(847.5,1205.5)"><rect class="b" x="-93.5" width="187" height="71"/><text xml:space="preserve"><tspan x="0" y="20.7">pclass=2nd &lt;= 0.5000</tspan><tspan x="0" y="40.2">entropy = 1.0</tspan><tspan x="0" y="59.8">samples = 2</tspan></text></g>
<g id="n67" transform="translate(1256,1205.5)"><rect class="b" x="-229" width="458" height="71"/><text xml:space="preserve"><tspan x="0" y="20.7">home.dest=Co Athlone, Ireland New York, NY &lt;= 0.5000</tspan><tspan x="0" y="40.2">entropy = 0.864757265575</tspan><tspan x="0" y="59.8">samples = 115</tspan></text></g>
<g id="n68" transform="translate(1585,1205.5)"><rect class="b" x="-75" width="150" height="71"/><text xml:space="preserve"><tspan x="0" y="20.7">entropy = 0.0000</tspan><tspan x="0" y="40.2">samples = 1</tspan><tspan x="0" y="59.8">value = [ 0.  1.]</tspan></text></g>
<g id="n69" transform="translate(1803.5,1205.5)"><rect class="b" x="-75" width="150" height="71"/><text xml:space="preserve"><tspan x="0" y="20.7">entropy = 0.0000</tspan><tspan x="0" y="40.2">samples = 2</tspan><tspan x="0" y="59.8">value = [ 2.  0.]</tspan></text></g>
<g id="n70" transform="translate(1978,1205.5)"><rect class="b" x="-75" width="150" height="71"/><text xml:space="preserve"><tspan x="0" y="20.7">entropy = 0.0000</tspan><tspan x="0" y="40.2">samples = 1</tspan><tspan x="0" y="59.8">value = [ 0.  1.]</tspan></text></g>
<g id="n71" transform="translate(2525,1205.5)"><rect class="b" x="-112" width="224" height="71"/><text xml:space="preserve"><tspan x="0" y="20.7">boat=15 &lt;= 0.5000</tspan><tspan x="0" y="40.2">entropy = 0.400507616846</tspan><tspan x="0" y="59.8">samples = 591</tspan></text></g>
<g id="n72" transform="translate(2736.5,1205.5)"><rect class="b" x="-75" width="150" height="71"/><text xml:space="preserve"><tspan x="0" y="20.7">entropy = 0.0000</tspan><tspan x="0" y="40.2">samples = 3</tspan><tspan x="0" y="59.8">value = [ 0.  3.]</tspan></text></g>
<g id="n73" transform="translate(344.5,1325.5)"><rect class="b" x="-133.5" width="267" height="71"/><text xml:space="preserve"><tspan x="0" y="20.7">embarked=Cherbourg &lt;= 0.5000</tspan><tspan x="0" y="40.2">entropy = 0.129851500501</tspan><tspan x="0" y="59.8">samples = 167</tspan></text></g>
<g id="n74" transform="translate(615.5,1325.5)"><rect class="b" x="-112.5" width="225" height="71"/><text xml:space="preserve"><tspan x="0" y="20.7">age &lt;= 37.5971</tspan><tspan x="0" y="40.2">entropy = 0.918295834054</tspan><tspan x="0" y="59.8">samples = 3</tspan></text></g>
<g id="n75" transform="translate(837,1325.5)"><rect class="b" x="-75" width="150" height="71"/><text xml:space="preserve"><tspan x="0" y="20.7">entropy = 0.0000</tspan><tspan x="0" y="40.2">samples = 1</tspan><tspan x="0" y="59.8">value = [ 0.  1.]</tspan></text></g>
<g id="n76" transform="translate(1012,1325.5)"><rect class="b" x="-75" width="150" height="71"/><text xml:space="preserve"><tspan x="0" y="20.7">entropy = 0.0000</tspan><tspan x="0" y="40.2">samples = 1</tspan><tspan x="0" y="59.8">value = [ 1.  0.]</tspan></text></g>
<g id="n77" transform="translate(1256,1325.5)"><rect class="b" x="-140" width="280" height="71"/><text xml:space="preserve"><tspan x="0" y="20.7">embarked=Queenstown &lt;= 0.5000</tspan><tspan x="0" y="40.2">entropy = 0.856405238913</tspan><tspan x="0" y="59.8">samples = 114</tspan></text></g>
<g id="n78" transform="translate(1496,1325.5)"><rect class="b" x="-75" width="150" height="71"/><text xml:space="preserve"><tspan x="0" y="20.7">entropy = 0.0000</tspan><tspan x="0" y="40.2">samples = 1</tspan><tspan x="0" y="59.8">value = [ 0.  1.]</tspan></text></g>
<g id="n79" transform="translate(2313,1325.5)"><rect class="b" x="-112" width="224" height="71"/><text xml:space="preserve"><tspan x="0" y="20.7">boat=5/7 &lt;= 0.5000</tspan><tspan x="0" y="40.2">entropy = 0.383694833169</tspan><tspan x="0" y="59.8">samples = 588</tspan></text></g>
<g id="n80" transform="translate(2525,1325.5)"><rect class="b" x="-75" width="150" height="71"/><text xml:space="preserve"><tspan x="0" y="20.7">entropy = 0.0000</tspan><tspan x="0" y="40.2">samples = 3</tspan><tspan x="0" y="59.8">value = [ 0.  3.]</tspan></text></g>
<g id="n81" transform="translate(154,1445.5)"><rect class="b" x="-83" width="166" height="71"/><text xml:space="preserve"><tspan x="0" y="20.7">entropy = 0.0000</tspan><tspan x="0" y="40.2">samples = 105</tspan><tspan x="0" y="59.8">value = [   0.  105.]</tspan></text></g>
<g id="n82" transform="translate(373.5,1445.5)"><rect class="b" x="-112.5" width="225" height="71"/><text xml:space="preserve"><tspan x="0" y="20.7">age &lt;= 31.0971</tspan><tspan x="0" y="40.2">entropy = 0.279505545637</tspan><tspan x="0" y="59.8">samples = 62</tspan></text></g>
<g id="n83" transform="translate(615,1445.5)"><rect class="b" x="-75" width="150" height="71"/><text xml:space="preserve"><tspan x="0" y="20.7">entropy = 0.0000</tspan><tspan x="0" y="40.2">samples = 2</tspan><tspan x="0" y="59.8">value = [ 0.  2.]</tspan></text></g>
<g id="n84" transform="translate(789.5,1445.5)"><rect class="b" x="-75" width="150" height="71"/><text xml:space="preserve"><tspan x="0" y="20.7">entropy = 0.0000</tspan><tspan x="0" y="40.2">samples = 1</tspan><tspan x="0" y="59.8">value = [ 1.  0.]</tspan></text></g>
<g id="n85" transform="translate(1132,1445.5)"><rect class="b" x="-134" width="268" height="71"/><text xml:space="preserve"><tspan x="0" y="20.7">embarked=Cherbourg &lt;= 0.5000</tspan><tspan x="0" y="40.2">entropy = 0.869892685604</tspan><tspan x="0" y="59.8">samples = 110</tspan></text></g>
<g id="n86" transform="translate(1365,1445.5)"><rect class="b" x="-75" width="150" height="71"/><text xml:space="preserve"><tspan x="0" y="20.7">entropy = 0.0000</tspan><tspan x="0" y="40.2">samples = 4</tspan><tspan x="0" y="59.8">value = [ 4.  0.]</tspan></text></g>
<g id="n87" transform="translate(2104,1445.5)"><rect class="b" x="-112" width="224" height="71"/><text xml:space="preserve"><tspan x="0" y="20.7">boat=C &lt;= 0.5000</tspan><tspan x="0" y="40.2">entropy = 0.372133787192</tspan><tspan x="0" y="59.8">samples = 586</tspan></text></g>
<g id="n88" transform="translate(2316,1445.5)"><rect class="b" x="-75" width="150" height="71"/><text xml:space="preserve"><tspan x="0" y="20.7">entropy = 0.0000</tspan><tspan x="0" y="40.2">samples = 2</tspan><tspan x="0" y="59.8">value = [ 0.  2.]</tspan></text></g>
<g id="n89" transform="translate(356,1565.5)"><rect class="b" x="-75" width="150" height="71"/><text xml:space="preserve"><tspan x="0" y="20.7">entropy = 0.0000</tspan><tspan x="0" y="40.2">samples = 21</tspan><tspan x="0" y="59.8">value = [  0.  21.]</tspan></text></g>
<g id="n90" transform="translate(568,1565.5)"><rect class="b" x="-112" width="224" height="71"/><text xml:space="preserve"><tspan x="0" y="20.7">age &lt;= 37.5000</tspan><tspan x="0" y="40.2">entropy = 0.377646321374</tspan><tspan x="0" y="59.8">samples = 41</tspan></text></g>
<g id="n91" transform="translate(1040.5,1565.5)"><rect class="b" x="-75.5" width="151" height="71"/><text xml:space="preserve"><tspan x="0" y="20.7">entropy = 0.8767</tspan><tspan x="0" y="40.2">samples = 108</tspan><tspan x="0" y="59.8">value = [ 76.  32.]</tspan></text></g>
<g id="n92" transform="translate(1220,1565.5)"><rect class="b" x="-75" width="150" height="71"/><text xml:space="preserve"><tspan x="0" y="20.7">entropy = 0.0000</tspan><tspan x="0" y="40.2">samples = 2</tspan><tspan x="0" y="59.8">value = [ 2.  0.]</tspan></text></g>
<g id="n93" transform="translate(1892,1565.5)"><rect class="b" x="-176" width="352" height="71"/><text xml:space="preserve"><tspan x="0" y="20.7">home.dest=Spain / Havana, Cuba &lt;= 0.5000</tspan><tspan x="0" y="40.2">entropy = 0.360275056422</tspan><tspan x="0" y="59.8">samples = 584</tspan></text></g>
<g id="n94" transform="translate(2168.5,1565.5)"><rect class="b" x="-75" width="150" height="71"/><text xml:space="preserve"><tspan x="0" y="20.7">entropy = 0.0000</tspan><tspan x="0" y="40.2">samples = 2</tspan><tspan x="0" y="59.8">value = [ 0.  2.]</tspan></text></g>
<g id="n95" transform="translate(461,1685.5)"><rect class="b" x="-112" width="224" height="71"/><text xml:space="preserve"><tspan x="0" y="20.7">age &lt;= 34.5000</tspan><tspan x="0" y="40.2">entropy = 0.574635697838</tspan><tspan x="0" y="59.8">samples = 22</tspan></text></g>
<g id="n96" transform="translate(673,1685.5)"><rect class="b" x="-75" width="150" height="71"/><text xml:space="preserve"><tspan x="0" y="20.7">entropy = 0.0000</tspan><tspan x="0" y="40.2">samples = 19</tspan><tspan x="0" y="59.8">value = [  0.  19.]</tspan></text></g>
<g id="n97" transform="translate(1704.5,1685.5)"><rect class="b" x="-112.5" width="225" height="71"/><text xml:space="preserve"><tspan x="0" y="20.7">pclass=3rd &lt;= 0.5000</tspan><tspan x="0" y="40.2">entropy = 0.348103811721</tspan><tspan x="0" y="59.8">samples = 582</tspan></text></g>
<g id="n98" transform="translate(1916,1685.5)"><rect class="b" x="-75" width="150" height="71"/><text xml:space="preserve"><tspan x="0" y="20.7">entropy = 0.0000</tspan><tspan x="0" y="40.2">samples = 2</tspan><tspan x="0" y="59.8">value = [ 0.  2.]</tspan></text></g>
<g id="n99" transform="translate(414.5,1805.5)"><rect class="b" x="-152.5" width="305" height="71"/><text xml:space="preserve"><tspan x="0" y="20.7">home.dest=New York, NY &lt;= 0.5000</tspan><tspan x="0" y="40.2">entropy = 0.453716339187</tspan><tspan x="0" y="59.8">samples = 21</tspan></text></g>
<g id="n100" transform="translate(667,1805.5)"><rect class="b" x="-75" width="150" height="71"/><text xml:space="preserve"><tspan x="0" y="20.7">entropy = 0.0000</tspan><tspan x="0" y="40.2">samples = 1</tspan><tspan x="0" y="59.8">value = [ 1.  0.]</tspan></text></g>
<g id="n101" transform="translate(1466.5,1805.5)"><rect class="b" x="-112.5" width="225" height="71"/><text xml:space="preserve"><tspan x="0" y="20.7">boat=9 &lt;= 0.5000</tspan><tspan x="0" y="40.2">entropy = 0.183784321174</tspan><tspan x="0" y="59.8">samples = 215</tspan></text></g>
<g id="n102" transform="translate(1810,1805.5)"><rect class="b" x="-112" width="224" height="71"/><text xml:space="preserve"><tspan x="0" y="20.7">age &lt;= 31.0971</tspan><tspan x="0" y="40.2">entropy = 0.427031918809</tspan><tspan x="0" y="59.8">samples = 367</tspan></text></g>
<g id="n103" transform="translate(320,1925.5)"><rect class="b" x="-103" width="206" height="71"/><text xml:space="preserve"><tspan x="0" y="20.7">pclass=1st &lt;= 0.5000</tspan><tspan x="0" y="40.2">entropy = 0.5435644432</tspan><tspan x="0" y="59.8">samples = 16</tspan></text></g>
<g id="n104" transform="translate(522,1925.5)"><rect class="b" x="-75" width="150" height="71"/><text xml:space="preserve"><tspan x="0" y="20.7">entropy = 0.0000</tspan><tspan x="0" y="40.2">samples = 5</tspan><tspan x="0" y="59.8">value = [ 0.  5.]</tspan></text></g>
<g id="n105" transform="translate(1224,1925.5)"><rect class="b" x="-143" width="286" height="71"/><text xml:space="preserve"><tspan x="0" y="20.7">home.dest=Milford, NH &lt;= 0.5000</tspan><tspan x="0" y="40.2">entropy = 0.159935682292</tspan><tspan x="0" y="59.8">samples = 214</tspan></text></g>
<g id="n106" transform="translate(1467,1925.5)"><rect class="b" x="-75" width="150" height="71"/><text xml:space="preserve"><tspan x="0" y="20.7">entropy = 0.0000</tspan><tspan x="0" y="40.2">samples = 1</tspan><tspan x="0" y="59.8">value = [ 0.  1.]</tspan></text></g>
<g id="n107" transform="translate(1810.5,1925.5)"><rect class="b" x="-244.5" width="489" height="71"/><text xml:space="preserve"><tspan x="0" y="20.7">home.dest=Oskarshamn, Sweden Minneapolis, MN &lt;= 0.5000</tspan><tspan x="0" y="40.2">entropy = 0.116115075305</tspan><tspan x="0" y="59.8">samples = 64</tspan></text></g>
<g id="n108" transform="translate(2192,1925.5)"><rect class="b" x="-112" width="224" height="71"/><text xml:space="preserve"><tspan x="0" y="20.7">age &lt;= 31.5971</tspan><tspan x="0" y="40.2">entropy = 0.476276364852</tspan><tspan x="0" y="59.8">samples = 303</tspan></text></g>
<g id="n109" transform="translate(319.5,2045.5)"><rect class="b" x="-75" width="150" height="71"/><text xml:space="preserve"><tspan x="0" y="20.7">entropy = 0.0000</tspan><tspan x="0" y="40.2">samples = 4</tspan><tspan x="0" y="59.8">value = [ 0.  4.]</tspan></text></g>
<g id="n110" transform="translate(564,2045.5)"><rect class="b" x="-144" width="288" height="71"/><text xml:space="preserve"><tspan x="0" y="20.7">home.dest=Paris, France &lt;= 0.5000</tspan><tspan x="0" y="40.2">entropy = 0.650022421648</tspan><tspan x="0" y="59.8">samples = 12</tspan></text></g>
<g id="n111" transform="translate(1162,2045.5)"><rect class="b" x="-143" width="286" height="71"/><text xml:space="preserve"><tspan x="0" y="20.7">home.dest=Toronto, ON &lt;= 0.5000</tspan><tspan x="0" y="40.2">entropy = 0.13453094133</tspan><tspan x="0" y="59.8">samples = 213</tspan></text></g>
<g id="n112" transform="translate(1404,2045.5)"><rect class="b" x="-75" width="150" height="71"/><text xml:space="preserve"><tspan x="0" y="20.7">entropy = 0.0000</tspan><tspan x="0" y="40.2">samples = 1</tspan><tspan x="0" y="59.8">value = [ 0.  1.]</tspan></text></g>
<g id="n113" transform="translate(1640,2045.5)"><rect class="b" x="-75" width="150" height="71"/><text xml:space="preserve"><tspan x="0" y="20.7">entropy = 0.0000</tspan><tspan x="0" y="40.2">samples = 63</tspan><tspan x="0" y="59.8">value = [ 63.   0.]</tspan></text></g>
<g id="n114" transform="translate(1814.5,2045.5)"><rect class="b" x="-75" width="150" height="71"/><text xml:space="preserve"><tspan x="0" y="20.7">entropy = 0.0000</tspan><tspan x="0" y="40.2">samples = 1</tspan><tspan x="0" y="59.8">value = [ 0.  1.]</tspan></text></g>
<g id="n115" transform="translate(2118.5,2045.5)"><rect class="b" x="-198.5" width="397" height="71"/><text xml:space="preserve"><tspan x="0" y="20.7">home.dest=Hong Kong New York, NY &lt;= 0.5000</tspan><tspan x="0" y="40.2">entropy = 0.503258334776</tspan><tspan x="0" y="59.8">samples = 279</tspan></text></g>
<g id="n116" transform="translate(2417,2045.5)"><rect class="b" x="-75" width="150" height="71"/><text xml:space="preserve"><tspan x="0" y="20.7">entropy = 0.0000</tspan><tspan x="0" y="40.2">samples = 24</tspan><tspan x="0" y="59.8">value = [ 24.   0.]</tspan></text></g>
<g id="n117" transform="translate(457,2165.5)"><rect class="b" x="-112" width="224" height="71"/><text xml:space="preserve"><tspan x="0" y="20.7">ticket=17608 &lt;= 0.5000</tspan><tspan x="0" y="40.2">entropy = 0.764204506509</tspan><tspan x="0" y="59.8">samples = 9</tspan></text></g>
<g id="n118" transform="translate(669,2165.5)"><rect class="b" x="-75" width="150" height="71"/><text xml:space="preserve"><tspan x="0" y="20.7">entropy = 0.0000</tspan><tspan x="0" y="40.2">samples = 3</tspan><tspan x="0" y="59.8">value = [ 0.  3.]</tspan></text></g>
<g id="n119" transform="translate(1021,2165.5)"><rect class="b" x="-159" width="318" height="71"/><text xml:space="preserve"><tspan x="0" y="20.7">home.dest=Harrow, England &lt;= 0.5000</tspan><tspan x="0" y="40.2">entropy = 0.107199010662</tspan><tspan x="0" y="59.8">samples = 212</tspan></text></g>
<g id="n120" transform="translate(1279.5,2165.5)"><rect class="b" x="-75" width="150" height="71"/><text xml:space="preserve"><tspan x="0" y="20.7">entropy = 0.0000</tspan><tspan x="0" y="40.2">samples = 1</tspan><tspan x="0" y="59.8">value = [ 0.  1.]</tspan></text></g>
<g id="n121" transform="translate(1850.5,2165.5)"><rect class="b" x="-177.5" width="355" height="71"/><text xml:space="preserve"><tspan x="0" y="20.7">home.dest=Italy Philadelphia, PA &lt;= 0.5000</tspan><tspan x="0" y="40.2">entropy = 0.49359070278</tspan><tspan x="0" y="59.8">samples = 278</tspan></text></g>
<g id="n122" transform="translate(2128,2165.5)"><rect class="b" x="-75" width="150" height="71"/><text xml:space="preserve"><tspan x="0" y="20.7">entropy = 0.0000</tspan><tspan x="0" y="40.2">samples = 1</tspan><tspan x="0" y="59.8">value = [ 0.  1.]</tspan></text></g>
<g id="n123" transform="translate(425,2285.5)"><rect class="b" x="-112" width="224" height="71"/><text xml:space="preserve"><tspan x="0" y="20.7">room=C-99 &lt;= 0.5000</tspan><tspan x="0" y="40.2">entropy = 0.811278124459</tspan><tspan x="0" y="59.8">samples = 8</tspan></text></g>
<g id="n124" transform="translate(637.5,2285.5)"><rect class="b" x="-75" width="150" height="71"/><text xml:space="preserve"><tspan x="0" y="20.7">entropy = 0.0000</tspan><tspan x="0" y="40.2">samples = 1</tspan><tspan x="0" y="59.8">value = [ 0.  1.]</tspan></text></g>
<g id="n125" transform="translate(961,2285.5)"><rect class="b" x="-192" width="384" height="71"/><text xml:space="preserve"><tspan x="0" y="20.7">home.dest=Norwich / New York, NY &lt;= 0.5000</tspan><tspan x="0" y="40.2">entropy = 0.0773169204375</tspan><tspan x="0" y="59.8">samples = 211</tspan></text></g>
<g id="n126" transform="translate(1252.5,2285.5)"><rect class="b" x="-75" width="150" height="71"/><text xml:space="preserve"><tspan x="0" y="20.7">entropy = 0.0000</tspan><tspan x="0" y="40.2">samples = 1</tspan><tspan x="0" y="59.8">value = [ 0.  1.]</tspan></text></g>
<g id="n127" transform="translate(1561,2285.5)"><rect class="b" x="-192" width="384" height="71"/><text xml:space="preserve"><tspan x="0" y="20.7">home.dest=Syria Fredericksburg, VA &lt;= 0.5000</tspan><tspan x="0" y="40.2">entropy = 0.483698361592</tspan><tspan x="0" y="59.8">samples = 277</tspan></text></g>
<g id="n128" transform="translate(1853,2285.5)"><rect class="b" x="-75" width="150" height="71"/><text xml:space="preserve"><tspan x="0" y="20.7">entropy = 0.0000</tspan><tspan x="0" y="40.2">samples = 1</tspan><tspan x="0" y="59.8">value = [ 0.  1.]</tspan></text></g>
<g id="n129" transform="translate(361,2405.5)"><rect class="b" x="-112" width="224" height="71"/><text xml:space="preserve"><tspan x="0" y="20.7">boat=6 &lt;= 0.5000</tspan><tspan x="0" y="40.2">entropy = 0.863120568567</tspan><tspan x="0" y="59.8">samples = 7</tspan></text></g>
<g id="n130" transform="translate(573,2405.5)"><rect class="b" x="-75" width="150" height="71"/><text xml:space="preserve"><tspan x="0" y="20.7">entropy = 0.0000</tspan><tspan x="0" y="40.2">samples = 1</tspan><tspan x="0" y="59.8">value = [ 0.  1.]</tspan></text></g>
<g id="n131" transform="translate(829.5,2405.5)"><rect class="b" x="-124.5" width="249" height="71"/><text xml:space="preserve"><tspan x="0" y="20.7">home.dest=London &lt;= 0.5000</tspan><tspan x="0" y="40.2">entropy = 0.043588095738</tspan><tspan x="0" y="59.8">samples = 210</tspan></text></g>
<g id="n132" transform="translate(1054,2405.5)"><rect class="b" x="-75" width="150" height="71"/><text xml:space="preserve"><tspan x="0" y="20.7">entropy = 0.0000</tspan><tspan x="0" y="40.2">samples = 1</tspan><tspan x="0" y="59.8">value = [ 0.  1.]</tspan></text></g>
<g id="n133" transform="translate(1345,2405.5)"><rect class="b" x="-134" width="268" height="71"/><text xml:space="preserve"><tspan x="0" y="20.7">embarked=Cherbourg &lt;= 0.5000</tspan><tspan x="0" y="40.2">entropy = 0.473572924917</tspan><tspan x="0" y="59.8">samples = 276</tspan></text></g>
<g id="n134" transform="translate(1578.5,2405.5)"><rect class="b" x="-75" width="150" height="71"/><text xml:space="preserve"><tspan x="0" y="20.7">entropy = 0.0000</tspan><tspan x="0" y="40.2">samples = 1</tspan><tspan x="0" y="59.8">value = [ 0.  1.]</tspan></text></g>
<g id="n135" transform="translate(272,2525.5)"><rect class="b" x="-112" width="224" height="71"/><text xml:space="preserve"><tspan x="0" y="20.7">ticket=17485 &lt;= 0.5000</tspan><tspan x="0" y="40.2">entropy = 0.918295834054</tspan><tspan x="0" y="59.8">samples = 6</tspan></text></g>
<g id="n136" transform="translate(484,2525.5)"><rect class="b" x="-75" width="150" height="71"/><text xml:space="preserve"><tspan x="0" y="20.7">entropy = 0.0000</tspan><tspan x="0" y="40.2">samples = 1</tspan><tspan x="0" y="59.8">value = [ 0.  1.]</tspan></text></g>
<g id="n137" transform="translate(666.5,2525.5)"><rect class="b" x="-82.5" width="165" height="71"/><text xml:space="preserve"><tspan x="0" y="20.7">entropy = 0.0000</tspan><tspan x="0" y="40.2">samples = 204</tspan><tspan x="0" y="59.8">value = [ 204.    0.]</tspan></text></g>
<g id="n138" transform="translate(886.5,2525.5)"><rect class="b" x="-112.5" width="225" height="71"/><text xml:space="preserve"><tspan x="0" y="20.7">age &lt;= 30.5971</tspan><tspan x="0" y="40.2">entropy = 0.650022421648</tspan><tspan x="0" y="59.8">samples = 6</tspan></text></g>
<g id="n139" transform="translate(1164,2525.5)"><rect class="b" x="-140" width="280" height="71"/><text xml:space="preserve"><tspan x="0" y="20.7">embarked=Queenstown &lt;= 0.5000</tspan><tspan x="0" y="40.2">entropy = 0.483030680146</tspan><tspan x="0" y="59.8">samples = 268</tspan></text></g>
<g id="n140" transform="translate(1404,2525.5)"><rect class="b" x="-75" width="150" height="71"/><text xml:space="preserve"><tspan x="0" y="20.7">entropy = 0.0000</tspan><tspan x="0" y="40.2">samples = 8</tspan><tspan x="0" y="59.8">value = [ 8.  0.]</tspan></text></g>
<g id="n141" transform="translate(166.5,2645.5)"><rect class="b" x="-112.5" width="225" height="71"/><text xml:space="preserve"><tspan x="0" y="20.7">ticket=17754 &lt;= 0.5000</tspan><tspan x="0" y="40.2">entropy = 0.970950594455</tspan><tspan x="0" y="59.8">samples = 5</tspan></text></g>
<g id="n142" transform="translate(378,2645.5)"><rect class="b" x="-75" width="150" height="71"/><text xml:space="preserve"><tspan x="0" y="20.7">entropy = 0.0000</tspan><tspan x="0" y="40.2">samples = 1</tspan><tspan x="0" y="59.8">value = [ 0.  1.]</tspan></text></g>
<g id="n143" transform="translate(720,2645.5)"><rect class="b" x="-75" width="150" height="71"/><text xml:space="preserve"><tspan x="0" y="20.7">entropy = 0.0000</tspan><tspan x="0" y="40.2">samples = 1</tspan><tspan x="0" y="59.8">value = [ 0.  1.]</tspan></text></g>
<g id="n144" transform="translate(895,2645.5)"><rect class="b" x="-75" width="150" height="71"/><text xml:space="preserve"><tspan x="0" y="20.7">entropy = 0.0000</tspan><tspan x="0" y="40.2">samples = 5</tspan><tspan x="0" y="59.8">value = [ 5.  0.]</tspan></text></g>
<g id="n145" transform="translate(1155,2645.5)"><rect class="b" x="-144" width="288" height="71"/><text xml:space="preserve"><tspan x="0" y="20.7">embarked=Southampton &lt;= 0.5000</tspan><tspan x="0" y="40.2">entropy = 0.48915693507</tspan><tspan x="0" y="59.8">samples = 263</tspan></text></g>
<g id="n146" transform="translate(1399,2645.5)"><rect class="b" x="-75" width="150" height="71"/><text xml:space="preserve"><tspan x="0" y="20.7">entropy = 0.0000</tspan><tspan x="0" y="40.2">samples = 5</tspan><tspan x="0" y="59.8">value = [ 5.  0.]</tspan></text></g>
<g id="n147" transform="translate(79.5,2765.5)"><rect class="b" x="-74.5" width="149" height="71"/><text xml:space="preserve"><tspan x="0" y="20.7">entropy = 1.0000</tspan><tspan x="0" y="40.2">samples = 4</tspan><tspan x="0" y="59.8">value = [ 2.  2.]</tspan></text></g>
<g id="n148" transform="translate(254,2765.5)"><rect class="b" x="-75" width="150" height="71"/><text xml:space="preserve"><tspan x="0" y="20.7">entropy = 0.0000</tspan><tspan x="0" y="40.2">samples = 1</tspan><tspan x="0" y="59.8">value = [ 0.  1.]</tspan></text></g>
<g id="n149" transform="translate(1063,2765.5)"><rect class="b" x="-85" width="170" height="71"/><text xml:space="preserve"><tspan x="0" y="20.7">entropy = 0.4955</tspan><tspan x="0" y="40.2">samples = 258</tspan><tspan x="0" y="59.8">value = [ 230.   28.]</tspan></text></g>
<g id="n150" transform="translate(1246,2765.5)"><rect class="b" x="-75" width="150" height="71"/><text xml:space="preserve"><tspan x="0" y="20.7">entropy = 0.0000</tspan><tspan x="0" y="40.2">samples = 5</tspan><tspan x="0" y="59.8">value = [ 5.  0.]</tspan></text></g>
</g>
</svg>
